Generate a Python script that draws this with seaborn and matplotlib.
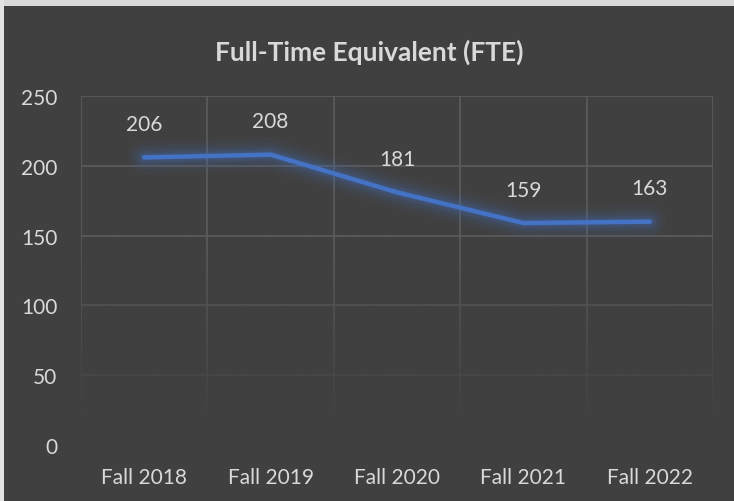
import numpy as np
import pandas as pd
import matplotlib
matplotlib.use("Agg")
import matplotlib.pyplot as plt
import seaborn as sns
from matplotlib.patches import Rectangle

# ---- data ----
terms = ["Fall 2018", "Fall 2019", "Fall 2020", "Fall 2021", "Fall 2022"]
fte_plotted = [206, 208, 181, 159, 160]
fte_labels = ["206", "208", "181", "159", "163"]
y_ticks = [0, 50, 100, 150, 200, 250]
title = "Full-Time Equivalent (FTE)"

BG = "#404040"
GRID = "#5c5c5c"
TXT = "#d9d9d9"
LINE = "#4472C4"

sns.set_theme(style="dark")
plt.rcParams["font.family"] = ["Lato", "DejaVu Sans"]

fig = plt.figure(figsize=(7.34, 5.02), dpi=100, facecolor=BG)
W, H = 734, 502
ax = fig.add_axes([81 / W, 1 - 446 / H, (713 - 81) / W, (446 - 97) / H])
ax.set_facecolor(BG)

df = pd.DataFrame({"term": terms, "fte": fte_plotted})
x = np.arange(len(terms))

# gridlines
for yv in y_ticks:
    ax.axhline(yv, color=GRID, lw=1.2, zorder=1)
for xv in np.arange(len(terms) + 1) - 0.5:
    ax.axvline(xv, color=GRID, lw=1.2, zorder=1)

# fade overlay (lower part of plot area)
ys = np.linspace(0, 250, 256)
alpha = np.clip((150 - ys) / (150 - 15), 0, 1)
rgba = np.zeros((256, 2, 4))
bgc = matplotlib.colors.to_rgb(BG)
rgba[..., 0] = bgc[0]
rgba[..., 1] = bgc[1]
rgba[..., 2] = bgc[2]
rgba[..., 3] = alpha[:, None]
ax.imshow(rgba, extent=(-0.5, len(terms) - 0.5, 0, 250), origin="lower",
          aspect="auto", zorder=1.5, interpolation="bilinear")

# glow
for lw, a in [(24, 0.05), (18, 0.07), (13, 0.09), (9, 0.12), (6, 0.15)]:
    ax.plot(x, fte_plotted, color=LINE, lw=lw, alpha=a, solid_capstyle="round",
            solid_joinstyle="round", zorder=2)

sns.lineplot(data=df, x="term", y="fte", color=LINE, linewidth=3.2, ax=ax,
             sort=False, zorder=3)
for ln in ax.lines[-1:]:
    ln.set_solid_capstyle("round")
    ln.set_solid_joinstyle("round")

for xi, yv, lab in zip(x, fte_plotted, fte_labels):
    ax.annotate(lab, (xi, yv), xytext=(0, 24), textcoords="offset points",
                ha="center", va="center", color=TXT, fontsize=15)

ax.set_xlim(-0.5, len(terms) - 0.5)
ax.set_ylim(0, 250)
ax.set_yticks(y_ticks)
ax.set_yticklabels([str(v) for v in y_ticks])
ax.set_xticks(x)
ax.set_xticklabels(terms)
ax.tick_params(axis="y", colors=TXT, labelsize=15, length=0, pad=17)
ax.tick_params(axis="x", colors=TXT, labelsize=15, length=0, pad=16)
ax.set_xlabel("")
ax.set_ylabel("")
ax.grid(False)
for s in ax.spines.values():
    s.set_visible(False)

fig.text(0.5 * (4 + 734) / W, 1 - 52 / H, title, ha="center", va="center",
         color=TXT, fontsize=19, fontweight="bold")

# outer light border strips (top and left)
fig.patches.append(Rectangle((0, 1 - 7 / H), 1, 7 / H, transform=fig.transFigure,
                             facecolor="#d9d9d9", edgecolor="none", zorder=0))
fig.patches.append(Rectangle((0, 0), 4 / W, 1, transform=fig.transFigure,
                             facecolor="#e3e3e3", edgecolor="none", zorder=0))

fig.savefig("out.png", dpi=100, facecolor=BG)
